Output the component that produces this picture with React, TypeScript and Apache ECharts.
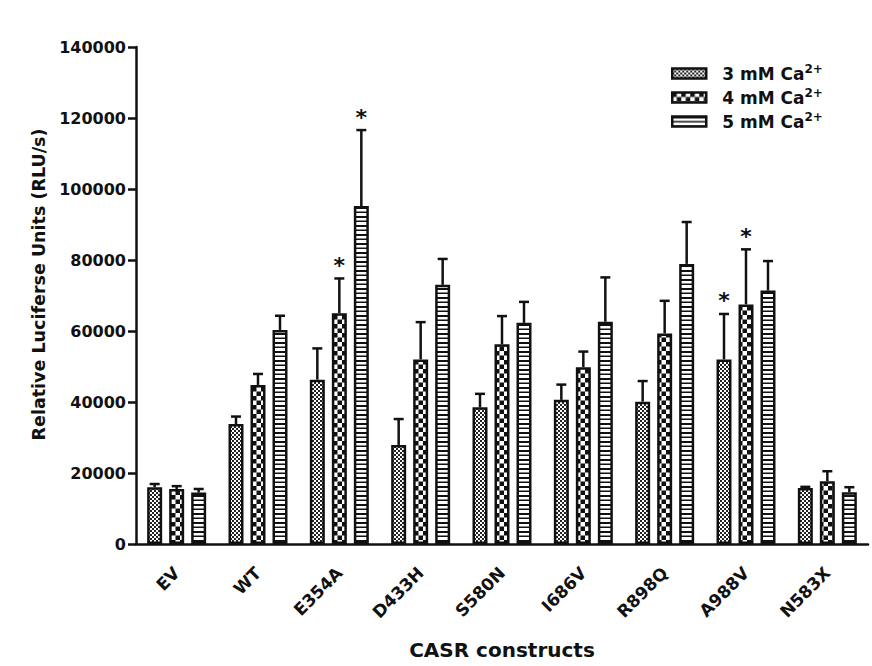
import React, { useEffect, useRef } from "react";
import * as echarts from "echarts";

const categories = ["EV", "WT", "E354A", "D433H", "S580N", "I686V", "R898Q", "A988V", "N583X"];
const seriesNames = ["3 mM Ca2+", "4 mM Ca2+", "5 mM Ca2+"];
const mean3 = [16000, 33800, 46300, 27900, 38500, 40600, 40100, 52000, 15800];
const sem3 = [900, 2100, 8800, 7300, 3800, 4300, 5800, 12800, 300];
const mean4 = [15500, 44800, 65000, 52000, 56300, 49800, 59300, 67500, 17700];
const sem4 = [800, 3100, 9800, 10500, 7900, 4400, 9200, 15500, 2800];
const mean5 = [14500, 60300, 95200, 73000, 62300, 62600, 78900, 71400, 14600];
const sem5 = [1000, 4000, 21400, 7300, 5900, 12500, 11800, 8300, 1400];
const sig3 = [0, 0, 0, 0, 0, 0, 0, 1, 0];
const sig4 = [0, 0, 1, 0, 0, 0, 0, 1, 0];
const sig5 = [0, 0, 1, 0, 0, 0, 0, 0, 0];
const yTicks = { min: 0, max: 140000, interval: 20000 };

const FONT = "DejaVu Sans";
const INK = "#111";
const BAR_W = 15;
const BAR_STEP = 22;

function makePattern(kind: string): HTMLCanvasElement {
  const c = document.createElement("canvas");
  const ctx = c.getContext("2d")!;
  if (kind === "fine") {
    c.width = 4; c.height = 4;
    ctx.fillStyle = "#fff"; ctx.fillRect(0, 0, 4, 4);
    ctx.fillStyle = "#222";
    ctx.fillRect(0, 0, 2, 2); ctx.fillRect(2, 2, 2, 2);
  } else if (kind === "coarse") {
    c.width = 9; c.height = 9;
    ctx.fillStyle = "#fff"; ctx.fillRect(0, 0, 9, 9);
    ctx.fillStyle = "#111";
    ctx.fillRect(0, 0, 4.5, 4.5); ctx.fillRect(4.5, 4.5, 4.5, 4.5);
  } else {
    c.width = 4; c.height = 9;
    ctx.fillStyle = "#fff"; ctx.fillRect(0, 0, 4, 9);
    ctx.fillStyle = "#111";
    ctx.fillRect(0, 0, 4, 2); ctx.fillRect(0, 4.5, 4, 1.5);
  }
  return c;
}

export default function App() {
  const ref = useRef<HTMLDivElement>(null);
  useEffect(() => {
    if (!ref.current) return;
    const chart = echarts.init(ref.current, undefined, { renderer: "svg" });
    const patterns = [makePattern("fine"), makePattern("coarse"), makePattern("stripe")];
    const means = [mean3, mean4, mean5];
    const sems = [sem3, sem4, sem5];
    const sigs = [sig3, sig4, sig5];

    const barSeries = seriesNames.map((name, k) => ({
      name,
      type: "bar",
      data: means[k],
      barWidth: BAR_W,
      barGap: ((BAR_STEP - BAR_W) / BAR_W) * 100 + "%",
      itemStyle: {
        color: { image: patterns[k], repeat: "repeat" },
        borderColor: INK,
        borderWidth: 2.5,
      },
      emphasis: { disabled: true },
      z: 2,
    }));

    const errSeries = seriesNames.map((name, k) => ({
      name: "err" + k,
      type: "custom",
      z: 3,
      clip: false,
      encode: { x: 0, y: 2 },
      data: means[k].map((m, i) => [i, m, m + sems[k][i], sigs[k][i]]),
      renderItem: (params: any, api: any) => {
        const idx = api.value(0);
        const m = api.value(1);
        const top = api.value(2);
        const sig = api.value(3);
        const p0 = api.coord([idx, m]);
        const p1 = api.coord([idx, top]);
        const x = p0[0] + (k - 1) * BAR_STEP;
        const children: any[] = [
          { type: "line", shape: { x1: x, y1: p0[1], x2: x, y2: p1[1] }, style: { stroke: INK, lineWidth: 2.5 } },
          { type: "line", shape: { x1: x - 5, y1: p1[1], x2: x + 5, y2: p1[1] }, style: { stroke: INK, lineWidth: 2.5 } },
        ];
        if (sig) {
          children.push({
            type: "text",
            x: x,
            y: p1[1] - 2,
            style: { text: "*", fill: INK, font: `bold 22px "${FONT}"`, textAlign: "center", textVerticalAlign: "bottom" },
          });
        }
        return { type: "group", children };
      },
    }));

    chart.setOption({
      animation: false,
      backgroundColor: "#fff",
      textStyle: { fontFamily: FONT },
      grid: { left: 136, right: 4, top: 47, bottom: 122 },
      legend: {
        data: seriesNames,
        orient: "vertical",
        left: 666,
        top: 58,
        itemWidth: 34,
        itemHeight: 10,
        itemGap: 5,
        icon: "rect",
        itemStyle: { borderColor: INK, borderWidth: 2.5 },
        formatter: (name: string) => `{a|${name.replace("2+", "")}}{b|2+}`,
        textStyle: {
          rich: {
            a: { fontFamily: FONT, fontWeight: "bold", fontSize: 17, color: INK, lineHeight: 21, padding: [0, 0, 0, 11] },
            b: { fontFamily: FONT, fontWeight: "bold", fontSize: 12, color: INK, lineHeight: 11, verticalAlign: "top" },
          },
        },
      },
      xAxis: {
        type: "category",
        data: categories,
        name: "CASR constructs",
        nameLocation: "middle",
        nameGap: 96,
        nameTextStyle: { fontFamily: FONT, fontWeight: "bold", fontSize: 20, color: INK },
        axisLine: { lineStyle: { color: INK, width: 2.5 } },
        axisTick: { alignWithLabel: true, length: 12, lineStyle: { color: INK, width: 2.5 } },
        axisLabel: { rotate: 45, margin: 26, fontFamily: FONT, fontWeight: "bold", fontSize: 17, color: INK },
      },
      yAxis: {
        type: "value",
        min: yTicks.min,
        max: yTicks.max,
        interval: yTicks.interval,
        name: "Relative Luciferse Units (RLU/s)",
        nameLocation: "middle",
        nameGap: 88,
        nameTextStyle: { fontFamily: FONT, fontWeight: "bold", fontSize: 17.5, color: INK, padding: [0, 0, 0, 22] },
        axisLine: { show: true, lineStyle: { color: INK, width: 2.5 } },
        axisTick: { show: true, length: 8, lineStyle: { color: INK, width: 2.5 } },
        splitLine: { show: false },
        axisLabel: { margin: 10, fontFamily: FONT, fontWeight: "bold", fontSize: 16, color: INK, formatter: (v: number) => String(v) },
      },
      series: [...barSeries, ...errSeries],
    });
    return () => chart.dispose();
  }, []);
  return <div ref={ref} style={{ position: "fixed", left: 0, top: 0, width: 872, height: 666 }} />;
}
